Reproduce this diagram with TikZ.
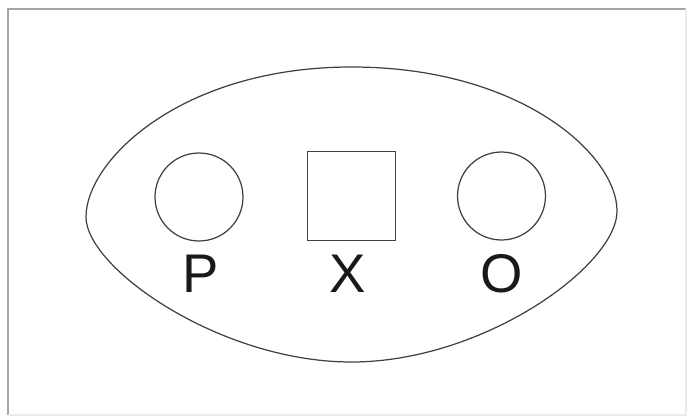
\documentclass[tikz,border=0pt]{standalone}
\usepackage{fontspec}
\setmainfont{Liberation Sans}
\usepackage{tikz}

\begin{document}
\begin{tikzpicture}[x=0.02cm,y=-0.02cm,
    shape line/.style={draw=black!75,line width=0.7pt},
    roundbox/.style={shape line,circle,minimum size=1.76cm,inner sep=0pt},
    squarebox/.style={shape line,rectangle,minimum size=1.77cm,inner sep=0pt},
    letter/.style={font=\fontsize{31}{31}\selectfont,text=black!90,inner sep=0pt}]
  \useasboundingbox (0,0) rectangle (690,419);
  % frame
  \draw[black!35,line width=0.6pt] (8,415) -- (8,9) -- (686,9);
  \draw[black!8,line width=0.6pt] (686,9) -- (686,415) -- (8,415);
  % outer oval
  \draw[shape line] (86,217) .. controls (86,160) and (182,67) .. (351.5,67)
    .. controls (521,67) and (617,155) .. (617,211)
    .. controls (617,266) and (483,362) .. (351.5,362)
    .. controls (220,362) and (86,268) .. (86,217) -- cycle;
  % the three symbols
  \node[roundbox] (pcirc) at (199,197) {};
  \node[squarebox] (xbox) at (351.5,196) {};
  \node[roundbox] (ocirc) at (501.5,196) {};
  \node[letter] (plabel) at (201,274) {P};
  \node[letter] (xlabel) at (348,274) {X};
  \node[letter] (olabel) at (502,274) {O};
\end{tikzpicture}
\end{document}
